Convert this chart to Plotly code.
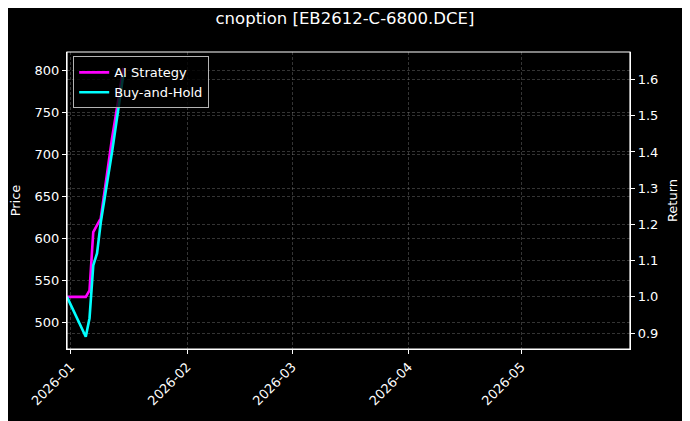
import plotly.graph_objects as go

dates = ["2025-12-31", "2026-01-05", "2026-01-06", "2026-01-07", "2026-01-08",
         "2026-01-09", "2026-01-12", "2026-01-13", "2026-01-14", "2026-01-15"]
ai_strategy = [1.000, 1.000, 1.018, 1.179, 1.198, 1.217, 1.438, 1.496, 1.565, 1.632]
buy_hold = [1.000, 0.890, 0.941, 1.087, 1.120, 1.206, 1.400, 1.469, 1.540, 1.612]

price_ticks = [500, 550, 600, 650, 700, 750, 800]
return_ticks = [0.9, 1.0, 1.1, 1.2, 1.3, 1.4, 1.5, 1.6]
month_ticks = ["2026-01-01", "2026-02-01", "2026-03-01", "2026-04-01", "2026-05-01"]
month_labels = ["2026-01", "2026-02", "2026-03", "2026-04", "2026-05"]

FONT = "DejaVu Sans"
GRID = "rgba(150,150,150,0.35)"

# the page body has an 8px margin; size the figure so it fills the 690x421 window
W, H = 682, 413

fig = go.Figure()
# empty trace to anchor the Price axis
fig.add_trace(go.Scatter(x=[], y=[], mode="lines", showlegend=False, hoverinfo="skip", yaxis="y"))
fig.add_trace(go.Scatter(x=dates, y=ai_strategy, mode="lines", name="AI Strategy",
                         line=dict(color="#ff00ff", width=2.6), yaxis="y2"))
fig.add_trace(go.Scatter(x=dates, y=buy_hold, mode="lines", name="Buy-and-Hold",
                         line=dict(color="#00ffff", width=2.6), yaxis="y2"))

axis_common = dict(showline=True, linecolor="white", linewidth=1.2, mirror=False,
                   ticks="outside", tickcolor="white", ticklen=4, tickwidth=1,
                   tickfont=dict(color="white", size=13, family=FONT),
                   showgrid=True, gridcolor=GRID, griddash="3px,2px", gridwidth=0.6,
                   zeroline=False, automargin=False)

fig.update_layout(
    width=W, height=H,
    paper_bgcolor="black", plot_bgcolor="black",
    margin=dict(l=59, r=60, t=44, b=72),
    font=dict(family=FONT, color="white", size=13),
    title=dict(text="cnoption [EB2612-C-6800.DCE]", x=(345 - 8) / W, xanchor="center",
               y=1 - 10 / H, yanchor="middle", yref="container",
               font=dict(size=16.5, color="white", family=FONT)),
    xaxis=dict(range=["2025-12-31", "2026-05-30"], type="date",
               tickvals=month_ticks, ticktext=month_labels, tickangle=-45,
               **axis_common),
    yaxis=dict(range=[468.2, 821.8], tickvals=price_ticks,
               title=dict(text="Price", font=dict(size=13, color="white", family=FONT), standoff=10),
               **axis_common),
    yaxis2=dict(range=[0.856, 1.676], tickvals=return_ticks, tickformat=".1f",
                overlaying="y", side="right",
                title=dict(text="Return", font=dict(size=13, color="white", family=FONT), standoff=10),
                **axis_common),
    legend=dict(x=0.011, y=0.985, xanchor="left", yanchor="top",
                bgcolor="rgba(0,0,0,0.8)", bordercolor="rgba(200,200,200,0.9)", borderwidth=1,
                font=dict(size=13, color="white", family=FONT)),
    showlegend=True,
)

fig.add_shape(type="rect", xref="paper", yref="paper", x0=0, y0=0, x1=1, y1=1,
              line=dict(color="white", width=1.2), layer="above")

fig.write_html("out.html")
